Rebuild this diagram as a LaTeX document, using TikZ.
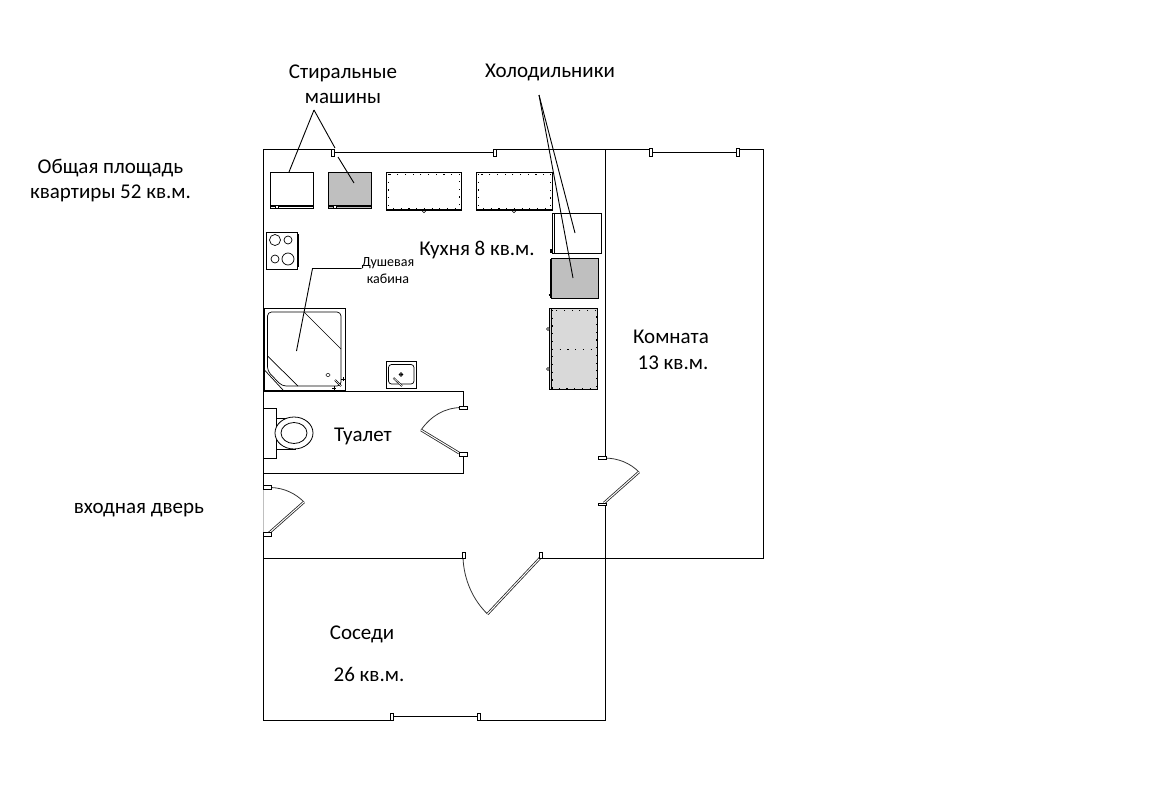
\documentclass[tikz,border=0pt]{standalone}
\usepackage{fontspec}
\setmainfont{Carlito}
\usetikzlibrary{positioning}
\definecolor{unitgrey}{HTML}{BFBFBF}
\definecolor{paleunit}{HTML}{D9D9D9}
\tikzstyle{wall} = [line width=1pt,black]
\tikzstyle{thin wall} = [line width=0.8pt,black]
\tikzstyle{jamb} = [line width=0.8pt,draw=black,fill=white]
\tikzstyle{leaf} = [line width=0.8pt,black!85,double=white,double distance=1pt]
\tikzstyle{swing} = [line width=0.8pt,black!80]
\tikzstyle{leader} = [line width=0.9pt,black]
\tikzstyle{dots} = [line width=1pt,black,dash pattern=on 1.2pt off 6.5pt]
\tikzstyle{label} = [font=\fontsize{21}{25}\selectfont,inner sep=0pt,align=center]
\tikzstyle{small label} = [font=\fontsize{14}{17}\selectfont,inner sep=0pt,align=center]

\begin{document}
\begin{tikzpicture}[x=1pt,y=-1pt]
\useasboundingbox (0,0) rectangle (1152,803);

% Walls
\draw[wall] (332,149) -- (263,149) -- (263,490);
\draw[wall] (263,533) -- (263,720) -- (392,720);
\draw[wall] (478,720) -- (605,720) -- (605,505);
\draw[wall] (605,458) -- (605,149);
\draw[wall] (496,149) -- (650,149);
\draw[wall] (737,149) -- (763,149) -- (763,558) -- (540,558);
\draw[wall] (462,558) -- (263,558);
\draw[wall] (263,391) -- (463,391) -- (463,406);
\draw[wall] (463,455) -- (463,473) -- (263,473);
\draw[line width=0.6pt,black!25] (263,490) -- (263,533);

% Windows
\draw[line width=1.1pt,black] (334,152.5) -- (494,152.5);
\draw[jamb] (331,149) rectangle (334,156);
\draw[jamb] (493.5,149) rectangle (496.5,156);
\draw[line width=1pt,black] (652,152) -- (737,152);
\draw[jamb] (649,148.5) rectangle (652,156);
\draw[jamb] (736.5,148.5) rectangle (739,156);
\draw[line width=1pt,black] (393,716) -- (478,716);
\draw[jamb] (390,713) rectangle (393.5,720);
\draw[jamb] (477,713) rectangle (480,720);

% Doors
\draw[swing] (461,407.5) .. controls (444,408) and (431,416) .. (421,430);
\draw[leaf] (421,430) -- (459,453);
\draw[jamb] (459,406) rectangle (467,409);
\draw[jamb] (459,452.5) rectangle (467,456.5);
\draw[swing] (271,487.5) .. controls (285,488) and (296,494) .. (304,502);
\draw[leaf] (304,502) -- (269,533);
\draw[jamb] (263,485) rectangle (271,489);
\draw[jamb] (263,532) rectangle (271,536);
\draw[swing] (463,558) .. controls (464,580) and (473,600) .. (487.5,614);
\draw[leaf] (487.5,614) -- (540,558);
\draw[jamb] (462,552) rectangle (465,558);
\draw[jamb] (539,552) rectangle (542,558);
\draw[swing] (604,458) .. controls (618,458) and (630,463) .. (639,472);
\draw[leaf] (639,472) -- (604,503);
\draw[jamb] (598,456) rectangle (606,459);
\draw[jamb] (598,503) rectangle (606,505.5);

% Washing machines
\draw[thin wall] (270.5,172) rectangle (313.5,208);
\draw[line width=1.8pt] (270.5,206) -- (313.5,206);
\draw[thin wall,fill=white] (275.5,205) rectangle (278.5,208);
\draw[thin wall,fill=unitgrey] (328.5,172) rectangle (371.5,208);
\draw[line width=1.8pt] (328.5,206) -- (371.5,206);
\draw[thin wall,fill=white] (333.5,205) rectangle (336.5,208);

% Worktops
\draw[thin wall] (386.5,172) rectangle (461.5,210);
\draw[line width=1.6pt] (386.5,210) -- (461.5,210);
\draw[dots] (388.5,174) rectangle (459.5,208);
\draw[line width=0.5pt] (424,211) circle (1.8);
\draw[thin wall] (476.5,172) rectangle (552.5,210);
\draw[line width=1.6pt] (476.5,210) -- (552.5,210);
\draw[dots] (478.5,174) rectangle (550.5,208);
\draw[line width=0.5pt] (514,211) circle (1.8);

% Fridges and cupboard
\draw[thin wall] (552,213) rectangle (601,253);
\draw[line width=0.6pt] (554,213) -- (554,253);
\draw[line width=1.4pt] (551,249) -- (551,252.5);
\draw[thin wall,fill=unitgrey] (551,258.5) rectangle (598.5,298);
\draw[line width=1.6pt] (551,258.5) -- (551,298);
\draw[line width=1.6pt] (548.5,295) -- (551,295);
\draw[thin wall,fill=paleunit] (549.5,308.5) rectangle (597.5,389);
\draw[line width=0.8pt] (551.8,308.5) -- (551.8,389);
\draw[dots] (552,310) rectangle (596,388);
\draw[dots] (552,349) -- (596,349);
\draw[line width=0.6pt,fill=white] (548,329) circle (1.5);
\draw[line width=0.6pt,fill=white] (548,369) circle (1.5);

% Stove
\draw[thin wall] (266,232) rectangle (297,269.5);
\draw[line width=2pt] (298,234) -- (298,267);
\draw[line width=0.7pt] (275,240) circle (5.5);
\draw[line width=0.7pt] (288,240) circle (4);
\draw[line width=0.7pt] (275,259) circle (4);
\draw[line width=0.7pt] (288,259) circle (6);

% Shower
\draw[thin wall] (264.5,308) rectangle (345,390);
\draw[line width=0.7pt,rounded corners=4pt] (267.5,312) -- (341,312) -- (341,386) -- (282,386) -- (267.5,371) -- cycle;
\draw[line width=0.7pt] (304,312) -- (341,349);
\draw[line width=0.7pt] (267.5,356) -- (298,386);
\draw[line width=0.7pt] (264.5,370) -- (283,390);
\draw[line width=0.5pt] (328,375) ellipse (2 and 1.5);
\draw[line width=0.6pt,double=white,double distance=0.6pt] (335,380) -- (341,386);
\draw[line width=0.5pt] (341,379) -- (345,379) (343,377) -- (343,381);
\draw[line width=0.5pt] (332,388) -- (336,388) (334,386) -- (334,390);

% Sink
\draw[thin wall] (386.5,361.5) rectangle (416.5,388);
\draw[line width=0.7pt,rounded corners=3pt] (388.5,364.5) rectangle (414,384);
\draw[line width=0.7pt] (401,374.5) circle (1.8);
\fill (401,374.5) circle (1);
\draw[line width=0.6pt,double=white,double distance=0.6pt] (393.5,378) -- (402,386);

% Toilet
\draw[thin wall] (263,408) rectangle (276.5,458.5);
\draw[line width=0.7pt] (276.5,418) -- (289,418);
\draw[line width=0.7pt] (276.5,449) -- (296,449);
\draw[line width=0.8pt,fill=white] (294,433) ellipse (19 and 16);
\draw[line width=0.8pt] (294,433) ellipse (13 and 10.5);

% Nodes
\node[label] (washers) at (343,84.5) {Стиральные\\машины};
\node[label] (fridges) at (550,72) {Холодильники};
\node[label] (total) at (110.5,180.5) {Общая площадь\\квартиры 52 кв.м.};
\node[label] (kitchen) at (477,250.5) {Кухня 8 кв.м.};
\node[small label] (showerlabel) at (388,271) {Душевая\\кабина};
\node[label] (room) at (671,337) {Комната};
\node[label] (roomarea) at (673,363) {13 кв.м.};
\node[label] (wc) at (363,436.5) {Туалет};
\node[label] (entry) at (139,510.5) {входная дверь};
\node[label] (neighbours) at (362,634) {Соседи};
\node[label] (neighboursarea) at (369,674) {26 кв.м.};

\coordinate (washsplit) at (314,110);
\coordinate (washA) at (289,172);
\coordinate (washB) at (335,148);
\coordinate (washC) at (338,157);
\coordinate (washD) at (354,183);
\coordinate (fridgesplit) at (539,95);
\coordinate (fridgeA) at (575,233);
\coordinate (fridgeB) at (573,278);
\coordinate (showerstart) at (361.5,268.5);
\coordinate (showerbend) at (312.5,268.5);
\coordinate (showerend) at (296.5,351);

% Edges
\draw[leader] (washsplit) -- (washA);
\draw[leader] (washsplit) -- (washB);
\draw[leader] (washC) -- (washD);
\draw[leader] (fridgesplit) -- (fridgeA);
\draw[leader] (fridgesplit) -- (fridgeB);
\draw[leader] (showerstart) -- (showerbend) -- (showerend);

\end{tikzpicture}
\end{document}
